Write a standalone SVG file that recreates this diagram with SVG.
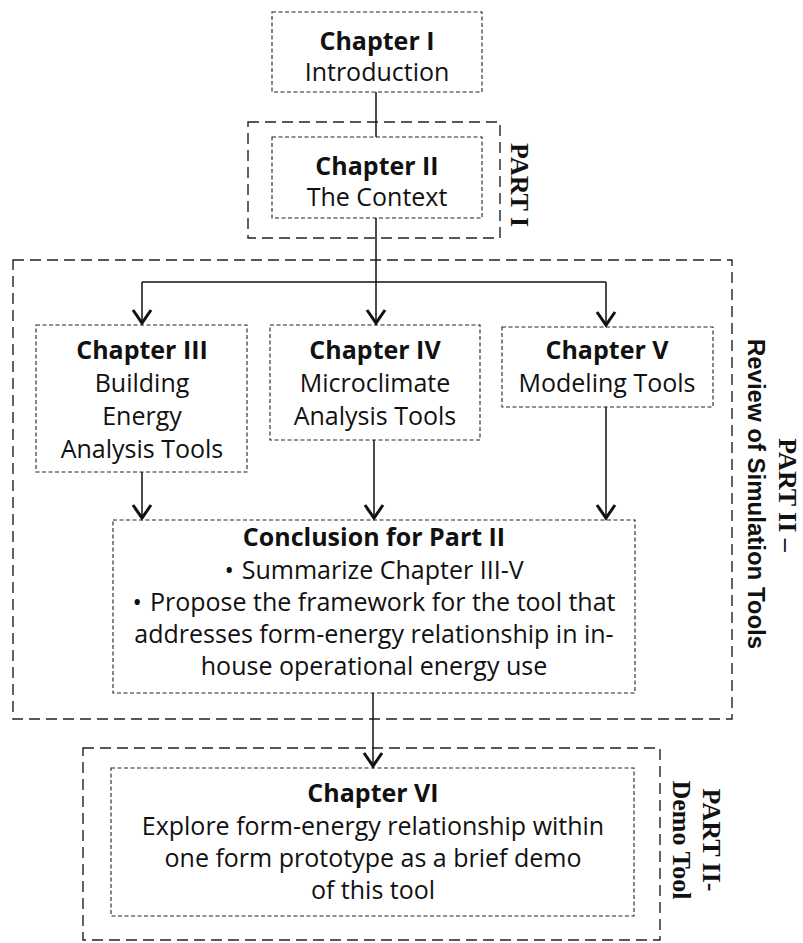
<svg xmlns="http://www.w3.org/2000/svg" width="803" height="943" viewBox="0 0 803 943">
<style>
.box{fill:none;stroke:#222;stroke-width:1.1;stroke-dasharray:4 2.5}
.part{fill:none;stroke:#222;stroke-width:1.4;stroke-dasharray:11 6}
.t{font-family:"Open Sans","Liberation Sans",sans-serif;font-size:25px;text-anchor:middle;fill:#111}
.b{font-weight:bold}
.lbl{font-family:"Liberation Serif",serif;font-weight:bold;font-size:26px;text-anchor:middle;fill:#111}
.lbls{font-family:"Liberation Sans",sans-serif;font-weight:bold;font-size:24px;text-anchor:middle;fill:#111}
.conn{stroke:#111;stroke-width:1.5;fill:none}
</style>
<defs>
<marker id="arr" markerUnits="userSpaceOnUse" viewBox="-16 -11 18 22" markerWidth="18" markerHeight="22" refX="0" refY="0" orient="auto">
<path d="M-14,-9 L-1,0 L-14,9" fill="none" stroke="#111" stroke-width="3"/>
</marker>
</defs>
<rect width="803" height="943" fill="#fff"/>

<g id="part1">
<rect class="part" x="248" y="122" width="252" height="116"/>
<text class="lbl" font-size="27" transform="translate(520,185) rotate(90)" y="9">PART I</text>
</g>
<g id="part2">
<rect class="part" x="13" y="260" width="719" height="459"/>
<text class="lbl" transform="translate(788,495) rotate(90)" y="9">PART II –</text>
<text class="lbls" transform="translate(757,494) rotate(90)" y="9">Review of Simulation Tools</text>
</g>
<g id="part3">
<rect class="part" x="83" y="748" width="577" height="192"/>
<text class="lbl" transform="translate(712,840) rotate(90)" y="9">PART II-</text>
<text class="lbl" transform="translate(682,840) rotate(90)" y="9">Demo Tool</text>
</g>

<g id="ch1">
<rect class="box" x="272" y="12" width="210" height="80"/>
<text class="t b" x="377" y="50">Chapter I</text>
<text class="t" x="377" y="81">Introduction</text>
</g>
<g id="ch2">
<rect class="box" x="272" y="137" width="210" height="81"/>
<text class="t b" x="377" y="175">Chapter II</text>
<text class="t" x="377" y="206">The Context</text>
</g>
<g id="ch3">
<rect class="box" x="36" y="325" width="211" height="147"/>
<text class="t b" x="142" y="359">Chapter III</text>
<text class="t" x="142" y="392">Building</text>
<text class="t" x="142" y="425">Energy</text>
<text class="t" x="142" y="458">Analysis Tools</text>
</g>
<g id="ch4">
<rect class="box" x="270" y="325" width="210" height="115"/>
<text class="t b" x="375" y="359">Chapter IV</text>
<text class="t" x="375" y="392">Microclimate</text>
<text class="t" x="375" y="425">Analysis Tools</text>
</g>
<g id="ch5">
<rect class="box" x="502" y="327" width="211" height="80"/>
<text class="t b" x="607" y="359">Chapter V</text>
<text class="t" x="607" y="392">Modeling Tools</text>
</g>
<g id="conclusion">
<rect class="box" x="113" y="520" width="522" height="173"/>
<text class="t b" x="374" y="546">Conclusion for Part II</text>
<text class="t" x="374" y="579">•<tspan dx="8">Summarize Chapter III-V</tspan></text>
<text class="t" x="374" y="611">•<tspan dx="8">Propose the framework for the tool that</tspan></text>
<text class="t" x="374" y="643">addresses form-energy relationship in in-</text>
<text class="t" x="374" y="675">house operational energy use</text>
</g>
<g id="ch6">
<rect class="box" x="111" y="768" width="523" height="148"/>
<text class="t b" x="373" y="802">Chapter VI</text>
<text class="t" x="373" y="835">Explore form-energy relationship within</text>
<text class="t" x="373" y="867">one form prototype as a brief demo</text>
<text class="t" x="373" y="899">of this tool</text>
</g>

<g id="connectors">
<line class="conn" x1="376" y1="92" x2="376" y2="137"/>
<line class="conn" x1="376" y1="218" x2="376" y2="282"/>
<line class="conn" x1="142" y1="282" x2="606" y2="282"/>
<line class="conn" x1="142" y1="282" x2="142" y2="324" marker-end="url(#arr)"/>
<line class="conn" x1="376" y1="282" x2="376" y2="324" marker-end="url(#arr)"/>
<line class="conn" x1="606" y1="282" x2="606" y2="326" marker-end="url(#arr)"/>
<line class="conn" x1="142" y1="472" x2="142" y2="519" marker-end="url(#arr)"/>
<line class="conn" x1="374" y1="440" x2="374" y2="519" marker-end="url(#arr)"/>
<line class="conn" x1="606" y1="407" x2="606" y2="519" marker-end="url(#arr)"/>
<line class="conn" x1="373" y1="693" x2="373" y2="767" marker-end="url(#arr)"/>
</g>
</svg>
